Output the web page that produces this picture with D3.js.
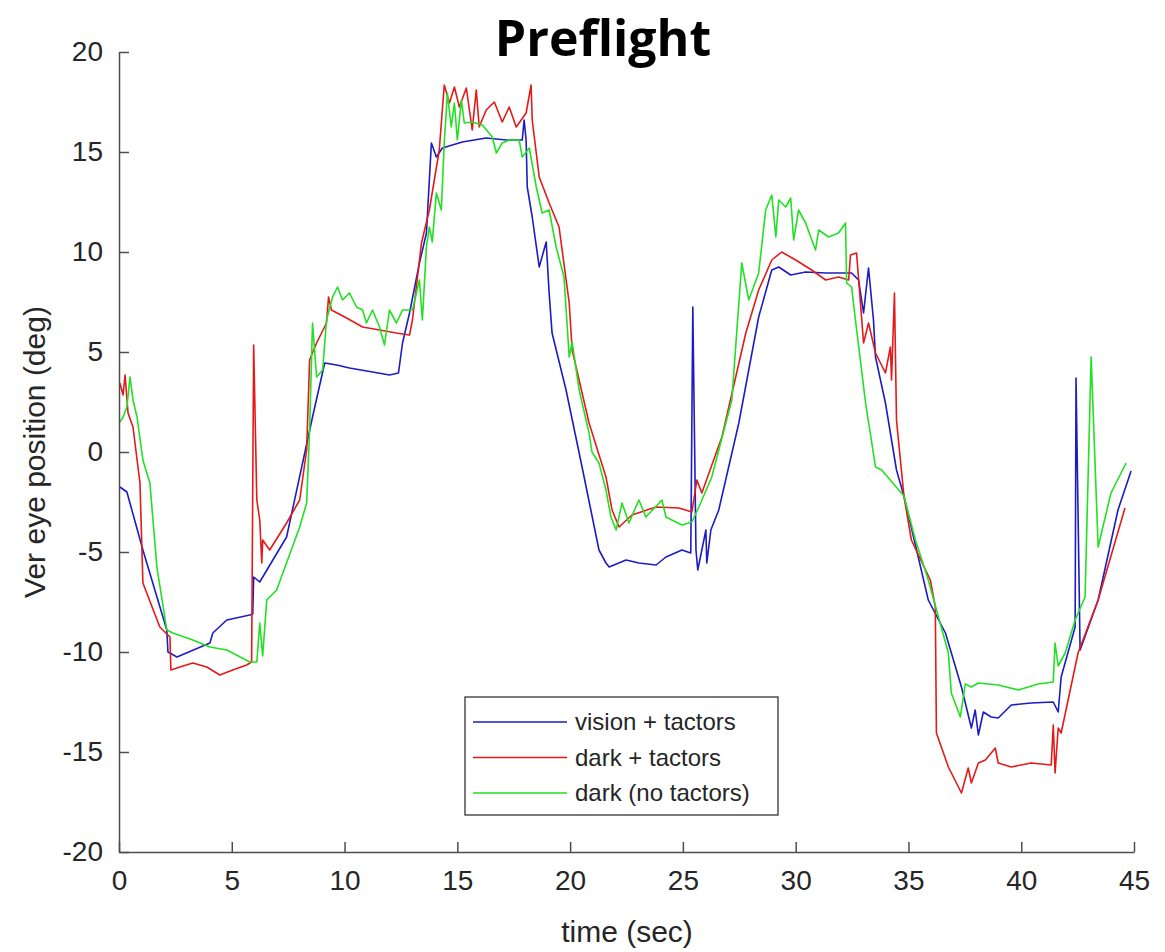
<!DOCTYPE html>
<html>
<head>
<meta charset="utf-8">
<script src="https://cdn.jsdelivr.net/npm/d3@7"></script>
<style>
body{margin:0;background:#fff;}
svg{display:block;}
</style>
</head>
<body>
<div id="chart"></div>
<script>
// ver eye position traces, [time sec, deg]
var visionTactors = [[0.04,-1.75],[0.35,-2.0],[1.06,-4.9],[2.12,-8.9],[2.17,-10.0],[2.57,-10.25],[4.03,-9.55],[4.16,-9.05],[4.78,-8.4],[5.80,-8.15],[5.93,-8.1],[5.97,-6.25],[6.24,-6.5],[7.43,-4.25],[8.58,1.75],[9.12,4.45],[9.65,4.35],[10.22,4.2],[11.24,4.0],[11.99,3.85],[12.39,3.95],[12.57,5.45],[12.88,6.95],[13.32,9.45],[13.63,10.95],[13.85,15.45],[14.07,14.75],[14.34,15.2],[15.22,15.5],[16.28,15.7],[17.17,15.6],[17.88,15.6],[17.96,16.6],[18.05,15.6],[18.10,13.25],[18.32,11.75],[18.63,9.25],[18.94,10.5],[19.07,7.95],[19.20,5.95],[19.82,3.1],[20.53,-0.75],[21.28,-4.9],[21.59,-5.55],[21.73,-5.75],[22.48,-5.4],[23.05,-5.55],[23.81,-5.65],[24.25,-5.25],[24.96,-4.9],[25.35,-5.05],[25.44,7.25],[25.58,-4.9],[25.66,-5.9],[25.84,-4.9],[26.02,-3.9],[26.06,-5.55],[26.24,-3.9],[26.59,-2.9],[27.48,1.45],[28.36,6.75],[28.94,9.1],[29.25,9.25],[29.78,8.85],[30.44,9.0],[31.33,8.95],[32.48,8.95],[32.79,8.6],[33.01,6.95],[33.23,9.2],[33.45,6.6],[33.54,4.75],[33.98,2.45],[34.47,-0.9],[34.80,-2.2],[35.88,-7.4],[36.64,-9.05],[37.35,-11.75],[37.79,-13.8],[37.96,-12.9],[38.10,-14.15],[38.32,-13.0],[38.67,-13.25],[38.98,-13.3],[39.56,-12.65],[40.44,-12.55],[41.42,-12.5],[41.64,-13.0],[41.77,-11.25],[42.39,-8.75],[42.43,3.7],[42.61,-9.9],[43.41,-7.4],[44.29,-2.9],[44.87,-0.95]];

var darkTactors = [[0.04,3.45],[0.18,2.85],[0.27,3.85],[0.40,1.95],[0.62,1.25],[0.93,-1.55],[1.06,-6.55],[1.81,-8.75],[2.26,-9.25],[2.30,-10.9],[2.70,-10.75],[3.27,-10.55],[3.89,-10.75],[4.47,-11.15],[5.04,-10.9],[5.66,-10.65],[5.88,-10.5],[5.97,5.35],[6.11,-2.4],[6.24,-3.4],[6.33,-5.55],[6.37,-4.4],[6.68,-4.9],[7.43,-3.55],[8.01,-2.4],[8.32,0.1],[8.45,4.6],[8.76,5.45],[9.20,6.45],[9.29,7.75],[9.42,7.1],[10.09,6.7],[10.80,6.25],[11.55,6.1],[12.30,5.95],[12.88,5.85],[13.01,6.6],[13.41,10.45],[13.76,12.1],[14.20,15.1],[14.42,18.35],[14.65,17.45],[14.87,18.25],[15.09,17.25],[15.40,18.2],[15.66,16.1],[15.84,18.1],[15.97,16.25],[16.28,17.1],[16.64,17.5],[16.99,16.5],[17.30,17.25],[17.61,16.25],[18.05,16.95],[18.27,18.35],[18.32,16.6],[18.63,13.75],[19.07,12.45],[19.51,11.25],[19.96,7.45],[20.09,5.1],[20.84,1.45],[21.59,-1.25],[21.86,-2.9],[22.17,-3.75],[22.74,-3.15],[23.81,-2.75],[24.82,-2.8],[25.40,-3.0],[25.62,-1.4],[25.84,-2.05],[26.73,0.75],[27.79,5.95],[28.36,8.1],[28.94,9.6],[29.38,10.0],[30.00,9.6],[30.71,9.1],[31.33,8.6],[31.90,8.75],[32.35,8.6],[32.43,9.85],[32.70,9.95],[33.01,5.45],[33.23,6.45],[33.54,4.95],[33.98,3.95],[34.20,5.25],[34.25,3.6],[34.38,7.95],[34.47,1.6],[34.80,-2.2],[35.13,-4.4],[35.97,-6.4],[36.19,-7.75],[36.24,-14.05],[36.77,-15.75],[37.35,-17.05],[37.65,-15.8],[37.79,-16.55],[38.10,-15.55],[38.41,-15.4],[38.85,-14.8],[38.98,-15.55],[39.56,-15.75],[40.44,-15.55],[41.33,-15.65],[41.42,-13.65],[41.50,-16.05],[41.64,-13.8],[41.77,-14.05],[42.52,-10.05],[43.41,-7.4],[44.60,-2.8]];

var darkNoTactors = [[0.04,1.5],[0.18,1.75],[0.35,2.25],[0.49,3.75],[0.62,2.6],[0.80,1.75],[1.06,-0.4],[1.37,-1.55],[1.68,-5.75],[2.12,-8.9],[2.39,-9.05],[3.27,-9.4],[4.03,-9.75],[4.78,-9.9],[5.80,-10.5],[6.11,-10.5],[6.24,-8.55],[6.37,-10.2],[6.55,-7.4],[6.99,-6.9],[8.01,-3.75],[8.32,-2.55],[8.45,1.1],[8.58,6.45],[8.76,3.75],[9.03,4.1],[9.20,6.6],[9.47,7.75],[9.69,8.25],[9.91,7.6],[10.22,7.95],[10.53,7.25],[10.80,7.1],[10.97,6.45],[11.24,7.1],[11.55,6.25],[11.77,5.35],[11.99,7.1],[12.30,6.45],[12.57,7.1],[13.01,7.1],[13.32,8.6],[13.45,6.6],[13.63,10.25],[13.76,11.25],[13.89,10.5],[14.07,12.95],[14.29,12.1],[14.42,15.45],[14.56,17.95],[14.73,16.25],[14.87,17.45],[15.00,15.6],[15.18,17.6],[15.31,16.45],[15.66,16.5],[16.11,16.35],[16.55,15.75],[16.73,14.95],[16.99,15.45],[17.30,15.6],[17.74,15.6],[17.88,14.75],[18.19,15.2],[18.50,13.25],[18.76,11.95],[19.07,12.1],[19.38,10.25],[19.73,8.75],[19.96,4.75],[20.09,5.5],[20.40,3.1],[20.84,0.95],[20.97,0.0],[21.28,-0.55],[21.59,-1.9],[21.81,-3.25],[22.04,-3.9],[22.30,-2.55],[22.61,-3.55],[23.05,-2.4],[23.36,-3.25],[24.07,-2.4],[24.25,-3.25],[24.51,-3.4],[24.96,-3.65],[25.40,-3.5],[25.71,-2.75],[26.28,-1.25],[27.17,2.6],[27.61,9.45],[27.92,7.6],[28.36,8.95],[28.67,12.1],[28.94,12.85],[29.12,10.75],[29.25,12.6],[29.56,12.25],[29.78,12.7],[29.91,10.6],[30.13,12.1],[30.44,11.45],[30.88,10.1],[31.02,11.1],[31.46,10.75],[31.90,10.95],[32.21,11.45],[32.26,8.45],[32.48,8.25],[32.65,6.6],[33.10,2.45],[33.54,-0.75],[33.81,-0.9],[34.80,-2.2],[35.31,-4.4],[35.88,-6.4],[36.77,-10.05],[36.90,-12.05],[37.30,-13.25],[37.52,-11.6],[37.79,-11.75],[38.10,-11.55],[38.98,-11.65],[39.87,-11.9],[40.75,-11.6],[41.42,-11.5],[41.50,-9.55],[41.64,-10.7],[41.95,-10.05],[42.39,-8.4],[42.83,-7.25],[43.10,4.75],[43.41,-4.75],[43.98,-2.05],[44.65,-0.55]];

var seriesNames = ["vision + tactors", "dark + tactors", "dark (no tactors)"];
var seriesColors = ["#1c1cc4", "#e41a1a", "#22e022"];
var xTicks = [0,5,10,15,20,25,30,35,40,45];
var yTicks = [-20,-15,-10,-5,0,5,10,15,20];

var W = 1165, H = 952;
var svg = d3.select("#chart").append("svg").attr("width", W).attr("height", H);

var x = d3.scaleLinear().domain([0,45]).range([119,1134]);
var y = d3.scaleLinear().domain([-20,20]).range([852,52]);

// title
svg.append("text")
    .attr("x", 603).attr("y", 56)
    .attr("text-anchor", "middle")
    .style("font-family", "'Open Sans', 'Noto Sans', sans-serif")
    .style("font-weight", "bold")
    .style("font-size", "50px")
    .text("Preflight");

var line = d3.line().x(function(d){return x(d[0]);}).y(function(d){return y(d[1]);});
var allSeries = [visionTactors, darkTactors, darkNoTactors];
allSeries.forEach(function(s, i){
    svg.append("path")
        .datum(s)
        .attr("d", line)
        .attr("fill", "none")
        .attr("stroke", seriesColors[i])
        .attr("stroke-width", 1.6)
        .attr("stroke-linejoin", "round");
});

// axes, plain hyphen minus like the original
var fmt = function(d){ return String(d); };
var xAxis = svg.append("g").attr("transform", "translate(0,852)")
    .call(d3.axisBottom(x).tickValues(xTicks).tickFormat(fmt).tickSizeInner(-10).tickSizeOuter(0).tickPadding(18));
var yAxis = svg.append("g").attr("transform", "translate(119,0)")
    .call(d3.axisLeft(y).tickValues(yTicks).tickFormat(fmt).tickSizeInner(-10).tickSizeOuter(0).tickPadding(16));
[xAxis, yAxis].forEach(function(a){
    a.select(".domain").attr("stroke", "#4d4d4d").attr("stroke-width", 1.5);
    a.selectAll(".tick line").attr("stroke", "#4d4d4d").attr("stroke-width", 1.5);
    a.selectAll(".tick text")
        .attr("fill", "#262626")
        .style("font-family", "'Liberation Sans', Arial, sans-serif")
        .style("font-size", "28px");
});

svg.append("text")
    .attr("x", 627).attr("y", 942)
    .attr("text-anchor", "middle")
    .attr("fill", "#262626")
    .style("font-family", "'Liberation Sans', Arial, sans-serif")
    .style("font-size", "30px")
    .text("time (sec)");

svg.append("text")
    .attr("transform", "translate(45,452) rotate(-90)")
    .attr("text-anchor", "middle")
    .attr("fill", "#262626")
    .style("font-family", "'Liberation Sans', Arial, sans-serif")
    .style("font-size", "30px")
    .text("Ver eye position (deg)");

// legend
var lg = svg.append("g");
lg.append("rect")
    .attr("x", 465).attr("y", 697).attr("width", 313).attr("height", 118)
    .attr("fill", "#fff").attr("stroke", "#333").attr("stroke-width", 1.3);
seriesNames.forEach(function(n, i){
    var ly = 722 + i*35.5;
    lg.append("line")
        .attr("x1", 473).attr("x2", 567).attr("y1", ly).attr("y2", ly)
        .attr("stroke", seriesColors[i]).attr("stroke-width", 1.6);
    lg.append("text")
        .attr("x", 575).attr("y", ly + 8)
        .attr("fill", "#262626")
        .style("font-family", "'Liberation Sans', Arial, sans-serif")
        .style("font-size", "24px")
        .text(n);
});
</script>
</body>
</html>
